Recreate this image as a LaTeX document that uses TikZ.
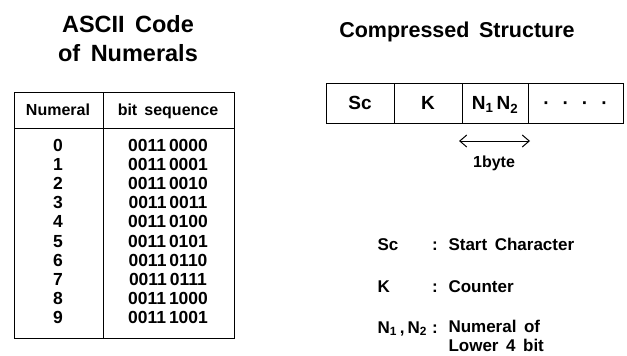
\documentclass[tikz,border=0pt]{standalone}
\usepackage{fontspec}
\setmainfont{Liberation Sans}[WordSpace=1.6]
\usetikzlibrary{positioning,arrows.meta}
\def\rowsep{19.2}

\begin{document}
\begin{tikzpicture}[x=1pt,y=-1pt,line width=1pt,font=\bfseries]
    \tikzstyle{title}=[font=\fontsize{23.5}{26}\selectfont\bfseries,anchor=base,inner sep=0pt]
    \tikzstyle{head}=[font=\fontsize{16}{18}\selectfont\bfseries,anchor=base,inner sep=0pt]
    \tikzstyle{entry}=[font=\fontsize{17.5}{19}\selectfont\bfseries,anchor=base,inner sep=0pt]
    \tikzstyle{cell}=[draw,rectangle,minimum height=40pt,inner sep=0pt,outer sep=0pt,
        text height=13.6pt,text depth=0pt,font=\fontsize{19}{20}\selectfont\bfseries]
    \tikzstyle{legend}=[font=\fontsize{17}{19}\selectfont\bfseries,anchor=base west,inner sep=0pt]
    \tikzstyle{arrow}=[{Straight Barb[length=7pt,width=12pt]}-{Straight Barb[length=7pt,width=12pt]}]

    \useasboundingbox (0,0) rectangle (627,356);

    % Titles
    \node[title] (t1) at (128,32) {ASCII Code};
    \node[title] (t2) at (128,61) {of Numerals};
    \node[title,font=\fontsize{21.5}{24}\selectfont\bfseries] (t3) at (457,37) {Compressed Structure};

    % Draw the table frame
    \draw (14,92) rectangle (234,338);
    \draw (14,128) -- (234,128);
    \draw (103,92) -- (103,338);

    % Table header
    \node[head] (h-num) at (58,115) {Numeral};
    \node[head] (h-bit) at (168,115) {bit sequence};

    % Table rows
    \foreach \n / \bits in {0/0000,1/0001,2/0010,3/0011,4/0100,5/0101,6/0110,7/0111,8/1000,9/1001}
    {
        \node[entry] (num-\n) at (58,{151+\rowsep*\n}) {\n};
        \node[entry] (bits-\n) at (168,{151+\rowsep*\n}) {0011\hspace{3pt}\bits};
    }

    % Draw the compressed structure
    \node[cell,minimum width=68pt] (sc) at (360,103) {Sc};
    \node[cell,minimum width=68pt,right=0pt of sc] (k) {K};
    \node[cell,minimum width=66pt,right=0pt of k] (nn) {N\textsubscript{1}\,N\textsubscript{2}};
    \node[cell,minimum width=95pt,right=0pt of nn] (more) {·\hspace{13pt}·\hspace{13pt}·\hspace{13pt}·};

    % One byte
    \coordinate (b-l) at (459,141);
    \coordinate (b-r) at (530,141);
    \draw[arrow] (b-l) -- (b-r);
    \node[head] (byte) at (494,167) {1byte};

    % Legend
    \node[legend] (l-sc) at (377,250) {Sc};
    \node[legend] (l-k) at (377,292) {K};
    \node[legend] (l-nn) at (377,333) {N\textsubscript{1}\hspace{3pt},\hspace{3pt}N\textsubscript{2}};
    \foreach \y in {250,292,333}
        \node[legend,anchor=base] at (435,\y) {:};
    \node[legend] (d-sc) at (448,250) {Start Character};
    \node[legend] (d-k) at (448,292) {Counter};
    \node[legend] (d-nn) at (448,332) {Numeral of};
    \node[legend] (d-nn2) at (448,351) {Lower 4 bit};
\end{tikzpicture}
\end{document}
